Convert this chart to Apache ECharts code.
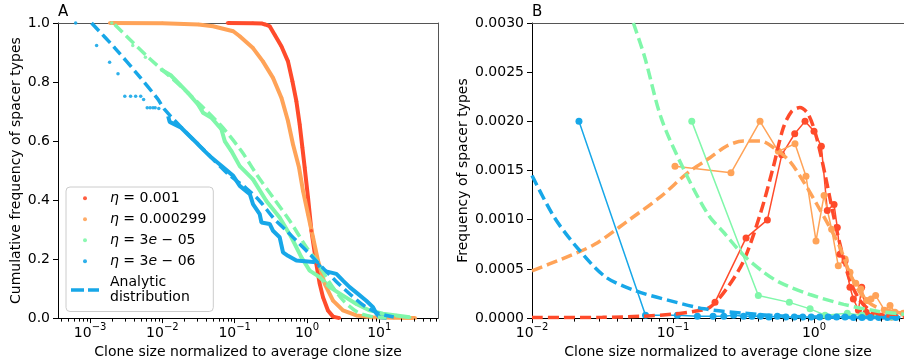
<!DOCTYPE html>
<html><head><meta charset="utf-8">
<script src="https://cdn.jsdelivr.net/npm/echarts@6/dist/echarts.min.js"></script>
<style>html,body{margin:0;padding:0;background:#fff}#c{width:904px;height:364px}</style>
</head><body><div id="c"></div>
<script>
// ---------- Panel A: x = log10(clone size / average), y = cumulative frequency ----------
const redA_x = [-1.1, -0.75, -0.62, -0.58, -0.516, -0.447, -0.354, -0.263, -0.202, -0.147, -0.101, -0.064, -0.032, 0.014, 0.061, 0.13, 0.176, 0.221, 0.29, 0.36, 0.45];
const redA_y = [1.0, 0.999, 0.998, 0.995, 0.989, 0.96, 0.921, 0.87, 0.803, 0.735, 0.656, 0.578, 0.51, 0.409, 0.296, 0.183, 0.116, 0.071, 0.026, 0.005, 0.0];

const orangeA_x = [-2.73, -2.0, -1.5, -1.3, -1.02, -0.93, -0.747, -0.61, -0.47, -0.354, -0.263, -0.194, -0.11, -0.055, 0.014, 0.083, 0.152, 0.245, 0.36, 0.498, 0.683, 0.9, 1.2, 1.5];
const orangeA_y = [1.0, 0.999, 0.995, 0.989, 0.972, 0.955, 0.915, 0.87, 0.814, 0.747, 0.668, 0.589, 0.51, 0.431, 0.352, 0.274, 0.195, 0.116, 0.059, 0.026, 0.009, 0.003, 0.0015, 0.0005];

const greenA_x = [-2.70, -2.41, -2.235, -2.014, -1.885, -1.76, -1.646, -1.507, -1.438, -1.322, -1.184, -1.138, -1.046, -0.93, -0.747, -0.562, -0.378, -0.216, -0.077, 0.037, 0.176, 0.314, 0.498, 0.683, 0.867, 1.05, 1.236, 1.42];
const greenA_y = [1.0, 0.924, 0.884, 0.842, 0.823, 0.792, 0.763, 0.724, 0.696, 0.679, 0.64, 0.60, 0.566, 0.515, 0.47, 0.397, 0.341, 0.274, 0.206, 0.161, 0.139, 0.105, 0.076, 0.048, 0.026, 0.015, 0.009, 0.003];

const blueA_sparse_x = [-3.20, -2.91, -2.73, -2.614, -2.52, -2.44, -2.37, -2.30, -2.26, -2.21, -2.17, -2.13, -2.10, -2.05];
const blueA_sparse_y = [1.0, 0.924, 0.867, 0.828, 0.752, 0.752, 0.752, 0.752, 0.741, 0.713, 0.713, 0.713, 0.713, 0.71];
const blueA_x = [-1.92, -1.90, -1.74, -1.67, -1.507, -1.415, -1.322, -1.184, -1.02, -0.93, -0.79, -0.747, -0.654, -0.63, -0.516, -0.47, -0.378, -0.332, -0.263, -0.147, 0.13, 0.221, 0.407, 0.498, 0.59, 0.705, 0.82, 0.913, 0.96, 1.005, 1.10];
const blueA_y = [0.684, 0.665, 0.645, 0.628, 0.589, 0.566, 0.544, 0.516, 0.482, 0.448, 0.42, 0.386, 0.352, 0.324, 0.319, 0.296, 0.274, 0.223, 0.211, 0.195, 0.189, 0.161, 0.15, 0.127, 0.105, 0.082, 0.059, 0.037, 0.015, 0.003, 0.001];

const greenDashA_x = [-2.66, -2.2, -1.7, -1.2, -0.907, -0.70, -0.47, -0.239, -0.008, 0.13, 0.3, 0.5, 0.7, 0.9, 1.1];
const greenDashA_y = [0.995, 0.885, 0.775, 0.655, 0.566, 0.488, 0.409, 0.33, 0.24, 0.195, 0.125, 0.06, 0.02, 0.005, 0.001];
const blueDashA_x = [-2.98, -2.66, -2.34, -2.06, -1.97, -1.646, -1.37, -1.1, -0.84, -0.654, -0.47, -0.285, -0.101, 0.037, 0.2, 0.4, 0.6, 0.8, 1.0, 1.2];
const blueDashA_y = [1.0, 0.916, 0.825, 0.741, 0.707, 0.623, 0.556, 0.49, 0.44, 0.397, 0.341, 0.296, 0.251, 0.217, 0.175, 0.125, 0.08, 0.04, 0.015, 0.004];

// ---------- Panel B: x = log10(clone size / average), y = frequency ----------
const redB_x = [-0.702, -0.482, -0.331, -0.229, -0.137, -0.064, 0.0, 0.052, 0.094, 0.142, 0.165, 0.184, 0.22, 0.255, 0.279, 0.315, 0.338, 0.37, 0.42, 0.48, 0.55];
const redB_y = [0.000162, 0.000815, 0.000998, 0.00166, 0.001874, 0.0020, 0.0019, 0.001746, 0.001095, 0.001156, 0.00092, 0.00065, 0.00058, 0.000313, 0.000195, 0.00008, 0.000313, 0.00006, 0.00003, 0.00002, 0.00001];
const orangeB_x = [-0.986, -0.589, -0.383, -0.253, -0.135, -0.057, 0.014, 0.071, 0.125, 0.172, 0.22, 0.255, 0.296, 0.332, 0.374, 0.404, 0.437, 0.50, 0.539, 0.574, 0.633];
const orangeB_y = [0.001544, 0.001477, 0.0020, 0.001695, 0.001773, 0.001443, 0.000785, 0.001247, 0.000903, 0.000532, 0.0006, 0.000465, 0.000354, 0.000296, 0.000178, 0.000195, 0.000229, 0.00008, 0.000128, 0.00006, 0.00005];
const greenB_x = [-0.867, -0.395, -0.175, -0.028, 0.078, 0.236, 0.34, 0.45, 0.55];
const greenB_y = [0.0020, 0.00023, 0.00016, 0.000094, 0.00003, 0.00005, 0.00003, 0.00002, 0.00001];
const blueB_x = [-1.667, -1.195, -0.969, -0.827, -0.716, -0.64, -0.57, -0.50, -0.44, -0.38, -0.32, -0.26, -0.20, -0.14, -0.08, -0.02, 0.04, 0.10, 0.16, 0.22, 0.28, 0.34, 0.40, 0.46, 0.52, 0.58];
const blueB_y = [0.0020, 0.00003, 0.00003, 0.00002, 0.00002, 0.00002, 0.00003, 0.00002, 0.00002, 0.00002, 0.00001, 0.00002, 0.00001, 0.00001, 0.00001, 0.00001, 0.00001, 0.00001, 0.00001, 0.00001, 0.000005, 0.000005, 0.000005, 0.000005, 0.000005, 0.000005];

const redDashB_x = [-2.0, -1.5, -1.2, -1.0, -0.846, -0.738, -0.619, -0.5, -0.383, -0.29, -0.219, -0.16, -0.1, -0.04, 0.019, 0.078, 0.137, 0.196, 0.255, 0.326, 0.397, 0.49, 0.64];
const redDashB_y = [0.000005, 0.000008, 0.00002, 0.00004, 0.00007, 0.00011, 0.0003, 0.00058, 0.00105, 0.00153, 0.00193, 0.0021, 0.00214, 0.00207, 0.00183, 0.00146, 0.00105, 0.00068, 0.00038, 0.00018, 0.00008, 0.00003, 0.00001];
const orangeDashB_x = [-2.0, -1.79, -1.555, -1.319, -1.083, -0.894, -0.738, -0.619, -0.5, -0.383, -0.265, -0.17, -0.076, 0.019, 0.113, 0.184, 0.255, 0.35, 0.445, 0.587, 0.64];
const orangeDashB_y = [0.000481, 0.0006, 0.00075, 0.00099, 0.00124, 0.00148, 0.00163, 0.00175, 0.0018, 0.0018, 0.00171, 0.00159, 0.00139, 0.00116, 0.00092, 0.00072, 0.00045, 0.00021, 0.00011, 0.00006, 0.00005];
const greenDashB_x = [-1.281, -1.2, -1.083, -0.92, -0.75, -0.64, -0.5, -0.36, -0.24, -0.03, 0.21, 0.45, 0.64];
const greenDashB_y = [0.0030, 0.00265, 0.00203, 0.0015, 0.00105, 0.00087, 0.00064, 0.00047, 0.00036, 0.00024, 0.00014, 0.00007, 0.00004];
const blueDashB_x = [-2.0, -1.84, -1.67, -1.48, -1.27, -1.03, -0.78, -0.5, -0.2, 0.2, 0.64];
const blueDashB_y = [0.00145, 0.00102, 0.0007, 0.00042, 0.00028, 0.00018, 0.000095, 0.00005, 0.00002, 0.000008, 0.000003];

// ---------- ticks and labels ----------
const majorA = [-3, -2, -1, 0, 1];        // labels 10^n
const majorB = [-2, -1, 0];
const mantissas = [2, 3, 4, 5, 6, 7, 8, 9];
const legendNames = ['η = 0.001', 'η = 0.000299', 'η = 3e − 05', 'η = 3e − 06'];
const ANALYTIC = 'Analytic\ndistribution';
const xTitle = 'Clone size normalized to average clone size';

const FONT = 'DejaVu Sans';
const COL = { red: '#ff4b2b', orange: '#ffa358', green: '#80f7aa', blue: '#17a7e8' };
const A_MIN = -3.444, A_MAX = 1.812, B_MIN = -2, B_MAX = 0.638;

const zip = (xs, ys) => xs.map((x, i) => [x, ys[i]]);
function minors(lo, hi) {
  const out = [];
  for (let d = Math.floor(lo); d <= Math.ceil(hi); d++)
    for (const m of mantissas) { const v = d + Math.log10(m); if (v > lo && v < hi) out.push(v); }
  return out;
}
const expLabel = v => { const n = Math.round(v); return '{b|10}{s|' + (n < 0 ? '\u2212' : '') + Math.abs(n) + '}'; };
const txt = { fontFamily: FONT, fontSize: 14, color: '#000' };

function mainX(grid, min, max, majors) {
  return {
    type: 'value', gridIndex: grid, min, max, position: 'bottom',
    name: xTitle, nameLocation: 'middle', nameGap: 26, nameTextStyle: txt,
    axisLine: { onZero: false, lineStyle: { color: '#000', width: 1 } },
    splitLine: { show: false },
    axisTick: { customValues: majors, length: 5, lineStyle: { color: '#000', width: 1 } },
    axisLabel: {
      customValues: majors, margin: 4, formatter: expLabel,
      rich: {
        b: { fontFamily: FONT, fontSize: 14, color: '#000', padding: [4, 0, 0, 0], verticalAlign: 'bottom' },
        s: { fontFamily: FONT, fontSize: 10, color: '#000', lineHeight: 10, verticalAlign: 'top' }
      }
    }
  };
}
function spineX(grid, min, max) {
  return { type: 'value', gridIndex: grid, min, max, position: 'top',
    axisLine: { onZero: false, lineStyle: { color: '#555', width: 1 } },
    axisTick: { show: false }, axisLabel: { show: false }, splitLine: { show: false } };
}
function minorTickSeries(xi, yi, vals) {
  return {
    type: 'custom', xAxisIndex: xi, yAxisIndex: yi, silent: true, clip: false, z: 5,
    data: vals.map(v => [v, 0]),
    renderItem: (params, api) => {
      const p = api.coord([api.value(0), 0]);
      const x = Math.round(p[0]) + 0.5;
      return { type: 'line', shape: { x1: x, y1: p[1] + 0.5, x2: x, y2: p[1] + 3.5 },
        style: { stroke: '#000', lineWidth: 1 } };
    }
  };
}
const dash = [11, 5];
function dashed(xi, yi, xs, ys, color, name) {
  return { type: 'line', name: name || undefined, xAxisIndex: xi, yAxisIndex: yi, data: zip(xs, ys),
    showSymbol: false, symbol: 'none', smooth: 0.3, lineStyle: { color, width: 3.5, type: dash }, itemStyle: { color }, z: 4 };
}
function dots(xi, yi, xs, ys, color, name) {
  return { type: 'scatter', name, xAxisIndex: xi, yAxisIndex: yi, data: zip(xs, ys),
    symbol: 'circle', symbolSize: 3.5, itemStyle: { color, opacity: 0.9 }, z: 3 };
}
function dense(xi, yi, xs, ys, color) {
  return { type: 'line', xAxisIndex: xi, yAxisIndex: yi, data: zip(xs, ys),
    showSymbol: false, symbol: 'none', lineStyle: { color, width: 4 }, z: 3 };
}
function marked(xi, yi, xs, ys, color) {
  return { type: 'line', xAxisIndex: xi, yAxisIndex: yi, data: zip(xs, ys),
    symbol: 'circle', symbolSize: 7, showSymbol: true,
    lineStyle: { color, width: 1.5 }, itemStyle: { color }, z: 3 };
}
function leftY(grid, max, interval, name, gap, digits) {
  return { type: 'value', gridIndex: grid, min: 0, max, interval, position: 'left',
    name, nameLocation: 'middle', nameGap: gap, nameTextStyle: txt,
    axisLine: { onZero: false, lineStyle: { color: '#000', width: 1 } }, splitLine: { show: false },
    axisTick: { length: 5, lineStyle: { color: '#000' } },
    axisLabel: { ...txt, margin: 8, formatter: v => v.toFixed(digits) } };
}

const chart = echarts.init(document.getElementById('c'), null, { renderer: 'canvas', devicePixelRatio: 1 });
chart.setOption({
  animation: false,
  backgroundColor: '#fff',
  title: [
    { text: 'A', left: 58, top: 5, padding: 0, textStyle: { fontFamily: FONT, fontSize: 15, fontWeight: 'normal', color: '#000' } },
    { text: 'B', left: 532, top: 5, padding: 0, textStyle: { fontFamily: FONT, fontSize: 15, fontWeight: 'normal', color: '#000' } }
  ],
  grid: [
    { left: 58, right: 466, top: 23, bottom: 45 },
    { left: 532, right: 0, top: 23, bottom: 45 }
  ],
  xAxis: [
    mainX(0, A_MIN, A_MAX, majorA), spineX(0, A_MIN, A_MAX),
    mainX(1, B_MIN, B_MAX, majorB), spineX(1, B_MIN, B_MAX)
  ],
  yAxis: [
    leftY(0, 1, 0.2, 'Cumulative frequency of spacer types', 35, 1),
    { type: 'value', gridIndex: 0, min: 0, max: 1, position: 'right',
      axisLine: { show: true, onZero: false, lineStyle: { color: '#555', width: 1 } },
      axisTick: { show: false }, axisLabel: { show: false }, splitLine: { show: false } },
    leftY(1, 0.003, 0.0005, 'Frequency of spacer types', 62, 4)
  ],
  legend: {
    left: 66, top: 187, orient: 'vertical', itemWidth: 28, itemHeight: 4, itemGap: 5.5,
    padding: [3.5, 7, 6, 5], borderColor: '#cccccc', borderWidth: 1, borderRadius: 4,
    backgroundColor: 'rgba(255,255,255,0.8)', selectedMode: false,
    textStyle: { fontFamily: FONT, fontSize: 14, color: '#000', lineHeight: 15.5, padding: [0, 0, 0, 6],
      rich: { i: { fontFamily: FONT, fontSize: 14, fontStyle: 'italic', color: '#000', lineHeight: 15.5 } } },
    formatter: n => n.replace('η', '{i|η}').replace('e − ', '{i|e} − '),
    data: [
      ...legendNames.map(n => ({ name: n, icon: 'circle' })),
      { name: ANALYTIC, icon: 'path://M0,0h13v3.5h-13z M17,0h11v3.5h-11z' }
    ]
  },
  series: [
    // Panel A
    dense(0, 0, redA_x, redA_y, COL.red),
    dots(0, 0, redA_x, redA_y, COL.red, legendNames[0]),
    dense(0, 0, orangeA_x, orangeA_y, COL.orange),
    dots(0, 0, orangeA_x, orangeA_y, COL.orange, legendNames[1]),
    dense(0, 0, greenA_x.slice(3), greenA_y.slice(3), COL.green),
    dots(0, 0, greenA_x, greenA_y, COL.green, legendNames[2]),
    dots(0, 0, blueA_sparse_x, blueA_sparse_y, COL.blue, legendNames[3]),
    dense(0, 0, blueA_x, blueA_y, COL.blue),
    dashed(0, 0, greenDashA_x, greenDashA_y, COL.green),
    dashed(0, 0, blueDashA_x, blueDashA_y, COL.blue, ANALYTIC),
    minorTickSeries(0, 0, minors(A_MIN, A_MAX)),
    // Panel B
    dashed(2, 2, redDashB_x, redDashB_y, COL.red),
    dashed(2, 2, orangeDashB_x, orangeDashB_y, COL.orange),
    dashed(2, 2, greenDashB_x, greenDashB_y, COL.green),
    dashed(2, 2, blueDashB_x, blueDashB_y, COL.blue),
    marked(2, 2, redB_x, redB_y, COL.red),
    marked(2, 2, orangeB_x, orangeB_y, COL.orange),
    marked(2, 2, greenB_x, greenB_y, COL.green),
    marked(2, 2, blueB_x, blueB_y, COL.blue),
    minorTickSeries(2, 2, minors(B_MIN, B_MAX))
  ]
});
</script>
</body></html>
